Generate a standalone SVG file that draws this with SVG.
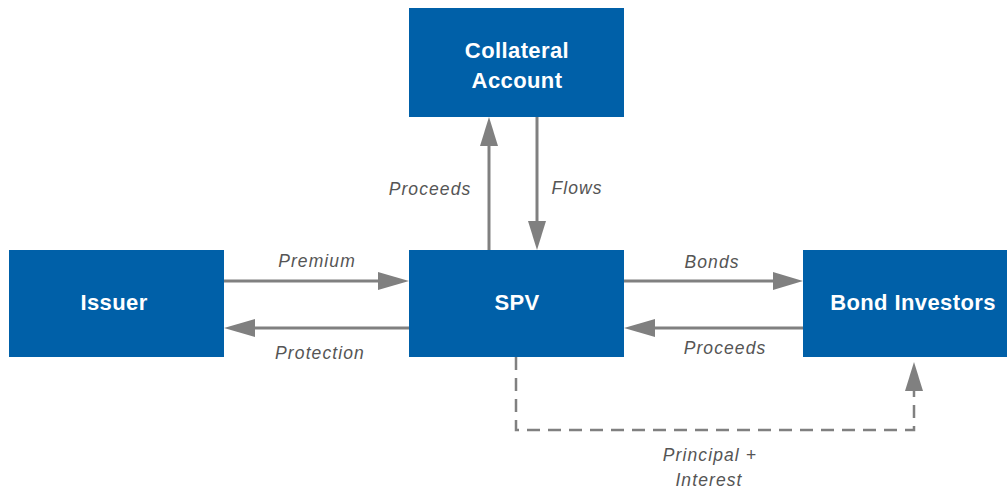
<svg xmlns="http://www.w3.org/2000/svg" width="1007" height="489" viewBox="0 0 1007 489">
<style>
.box{fill:#0060a8}
.bt{font-family:"Liberation Sans",Arial,sans-serif;font-weight:bold;font-size:22px;fill:#fff;text-anchor:middle;letter-spacing:0.4px}
.lbl{font-family:"Liberation Sans",Arial,sans-serif;font-style:italic;font-size:17.5px;fill:#555;text-anchor:middle;letter-spacing:1.1px}
.ln{stroke:#808080;stroke-width:3;fill:none}
.dash{stroke:#808080;stroke-width:2.5;fill:none;stroke-dasharray:13 8}
.head{fill:#808080}
</style>
<defs>
<marker id="ah" viewBox="0 0 10 10" refX="10" refY="5" markerWidth="10" markerHeight="6" markerUnits="userSpaceOnUse" orient="auto">
<path d="M0,0 L10,5 L0,10 z" class="head"/>
</marker>
</defs>
<g id="connectors">
<line class="ln" x1="489" y1="250" x2="489" y2="145"/>
<polygon class="head" points="489,117 480,146 498,146"/>
<line class="ln" x1="537" y1="117" x2="537" y2="222"/>
<polygon class="head" points="537,250 528,221 546,221"/>
<line class="ln" x1="224" y1="281" x2="381" y2="281"/>
<polygon class="head" points="409,281 378,272 378,290"/>
<line class="ln" x1="409" y1="328" x2="252" y2="328"/>
<polygon class="head" points="224,328 255,319 255,337"/>
<line class="ln" x1="624" y1="281" x2="776" y2="281"/>
<polygon class="head" points="803,281 773,272 773,290"/>
<line class="ln" x1="803" y1="328" x2="652" y2="328"/>
<polygon class="head" points="624,328 655,319 655,337"/>
<polyline class="dash" points="516,357 516,430 914,430 914,390"/>
<polygon class="head" points="914,362 905,391 923,391"/>
</g>
<g id="collateral">
<rect class="box" x="409" y="8" width="215" height="109"/>
<text class="bt" x="517" y="58">Collateral</text>
<text class="bt" x="517" y="88">Account</text>
</g>
<g id="issuer">
<rect class="box" x="9" y="250" width="215" height="107"/>
<text class="bt" x="114" y="310">Issuer</text>
</g>
<g id="spv">
<rect class="box" x="409" y="250" width="215" height="107"/>
<text class="bt" x="517" y="310">SPV</text>
</g>
<g id="investors">
<rect class="box" x="803" y="250" width="215" height="107"/>
<text class="bt" x="913" y="310">Bond Investors</text>
</g>
<g id="labels">
<text class="lbl" x="317" y="267">Premium</text>
<text class="lbl" x="320" y="359">Protection</text>
<text class="lbl" x="430" y="195">Proceeds</text>
<text class="lbl" x="577" y="194">Flows</text>
<text class="lbl" x="712" y="268">Bonds</text>
<text class="lbl" x="725" y="354">Proceeds</text>
<text class="lbl" x="710" y="461">Principal +</text>
<text class="lbl" x="709" y="486">Interest</text>
</g>
</svg>
